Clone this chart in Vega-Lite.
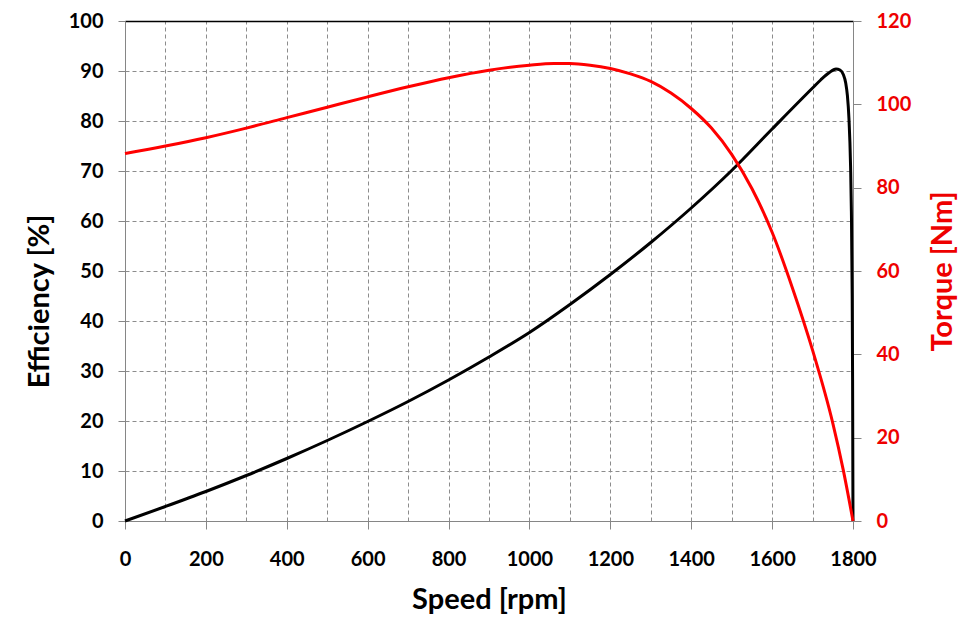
{
  "$schema": "https://vega.github.io/schema/vega-lite/v6.json",
  "width": 728,
  "height": 500,
  "autosize": {"type": "none"},
  "padding": {"left": 125, "top": 21, "right": 126, "bottom": 119},
  "background": "white",
  "config": {
    "view": {"stroke": null},
    "font": "Lato",
    "axis": {
      "labelFont": "Lato",
      "labelFontWeight": "bold",
      "labelFontSize": 20,
      "titleFont": "Lato",
      "titleFontWeight": "bold",
      "titleFontSize": 29,
      "domainColor": "#868686",
      "tickColor": "#868686",
      "gridColor": "#8c8c8c",
      "gridDash": [4, 3],
      "gridWidth": 1,
      "labelColor": "black",
      "titleColor": "black"
    }
  },
  "datasets": {
    "eff": [
      {"rpm": 0, "eff": 0}, {"rpm": 100, "eff": 2.9}, {"rpm": 200, "eff": 5.9}, {"rpm": 300, "eff": 9.1},
      {"rpm": 400, "eff": 12.5}, {"rpm": 500, "eff": 16.1}, {"rpm": 600, "eff": 19.9}, {"rpm": 700, "eff": 23.9},
      {"rpm": 800, "eff": 28.2}, {"rpm": 900, "eff": 32.8}, {"rpm": 1000, "eff": 37.7}, {"rpm": 1100, "eff": 43.3},
      {"rpm": 1200, "eff": 49.3}, {"rpm": 1300, "eff": 55.7}, {"rpm": 1400, "eff": 62.6}, {"rpm": 1500, "eff": 70.1},
      {"rpm": 1600, "eff": 78.4}, {"rpm": 1700, "eff": 86.6}, {"rpm": 1720, "eff": 88.2}, {"rpm": 1740, "eff": 89.6},
      {"rpm": 1758, "eff": 90.4}, {"rpm": 1768, "eff": 90.2}, {"rpm": 1776, "eff": 89.3}, {"rpm": 1782, "eff": 87.6},
      {"rpm": 1786, "eff": 85.2}, {"rpm": 1790, "eff": 80.5}, {"rpm": 1794, "eff": 71}, {"rpm": 1796, "eff": 62},
      {"rpm": 1798, "eff": 45}, {"rpm": 1799, "eff": 28}, {"rpm": 1800, "eff": 0}
    ],
    "torque": [
      {"rpm": 0, "torque": 88.2}, {"rpm": 100, "torque": 90.0}, {"rpm": 200, "torque": 92.0}, {"rpm": 300, "torque": 94.3},
      {"rpm": 400, "torque": 96.8}, {"rpm": 500, "torque": 99.3}, {"rpm": 600, "torque": 101.8}, {"rpm": 700, "torque": 104.2},
      {"rpm": 800, "torque": 106.4}, {"rpm": 900, "torque": 108.2}, {"rpm": 1000, "torque": 109.4}, {"rpm": 1060, "torque": 109.8},
      {"rpm": 1100, "torque": 109.8}, {"rpm": 1150, "torque": 109.4}, {"rpm": 1200, "torque": 108.6}, {"rpm": 1250, "torque": 107.3},
      {"rpm": 1300, "torque": 105.5}, {"rpm": 1350, "torque": 102.7}, {"rpm": 1400, "torque": 99.0}, {"rpm": 1450, "torque": 94.3},
      {"rpm": 1500, "torque": 88.0}, {"rpm": 1550, "torque": 79.8}, {"rpm": 1600, "torque": 69.3}, {"rpm": 1650, "torque": 56.0},
      {"rpm": 1700, "torque": 41.0}, {"rpm": 1750, "torque": 23.5}, {"rpm": 1776, "torque": 12.2}, {"rpm": 1800, "torque": 0}
    ]
  },
  "layer": [
    {
      "data": {"name": "eff"},
      "mark": {"type": "line", "color": "black", "strokeWidth": 3, "interpolate": "monotone"},
      "encoding": {
        "x": {
          "field": "rpm", "type": "quantitative",
          "scale": {"domain": [0, 1800], "nice": false, "zero": false},
          "axis": {
            "orient": "bottom",
            "title": "Speed [rpm]",
            "format": "d",
            "values": [0, 200, 400, 600, 800, 1000, 1200, 1400, 1600, 1800],
            "grid": false,
            "tickSize": 8,
            "labelPadding": 20,
            "titlePadding": 16,
            "labelFlush": false
          }
        },
        "y": {
          "field": "eff", "type": "quantitative",
          "scale": {"domain": [0, 100], "nice": false},
          "axis": {
            "orient": "left",
            "title": "Efficiency [%]",
            "values": [0, 10, 20, 30, 40, 50, 60, 70, 80, 90, 100],
            "grid": true,
            "tickSize": 7,
            "labelPadding": 15,
            "titlePadding": 14,
            "titleY": 280,
            "labelFlush": false
          }
        }
      }
    },
    {
      "data": {"name": "torque"},
      "mark": {"type": "line", "color": "#ff0000", "strokeWidth": 3, "interpolate": "monotone"},
      "encoding": {
        "x": {
          "field": "rpm", "type": "quantitative",
          "scale": {"domain": [0, 1800], "nice": false, "zero": false},
          "axis": {
            "orient": "top",
            "title": null,
            "values": [0, 100, 200, 300, 400, 500, 600, 700, 800, 900, 1000, 1100, 1200, 1300, 1400, 1500, 1600, 1700, 1800],
            "grid": true,
            "labels": false,
            "ticks": false,
            "domainColor": "black",
            "domainWidth": 1.5
          }
        },
        "y": {
          "field": "torque", "type": "quantitative",
          "scale": {"domain": [0, 120], "nice": false},
          "axis": {
            "orient": "right",
            "title": "Torque [Nm]",
            "titleColor": "#ee0000",
            "labelColor": "#ee0000",
            "titleAngle": 270,
            "titleBaseline": "top",
            "values": [0, 20, 40, 60, 80, 100, 120],
            "grid": false,
            "tickSize": 8,
            "labelPadding": 15,
            "titlePadding": 18,
            "labelFlush": false
          }
        }
      }
    }
  ],
  "resolve": {"scale": {"y": "independent"}, "axis": {"x": "independent"}}
}
